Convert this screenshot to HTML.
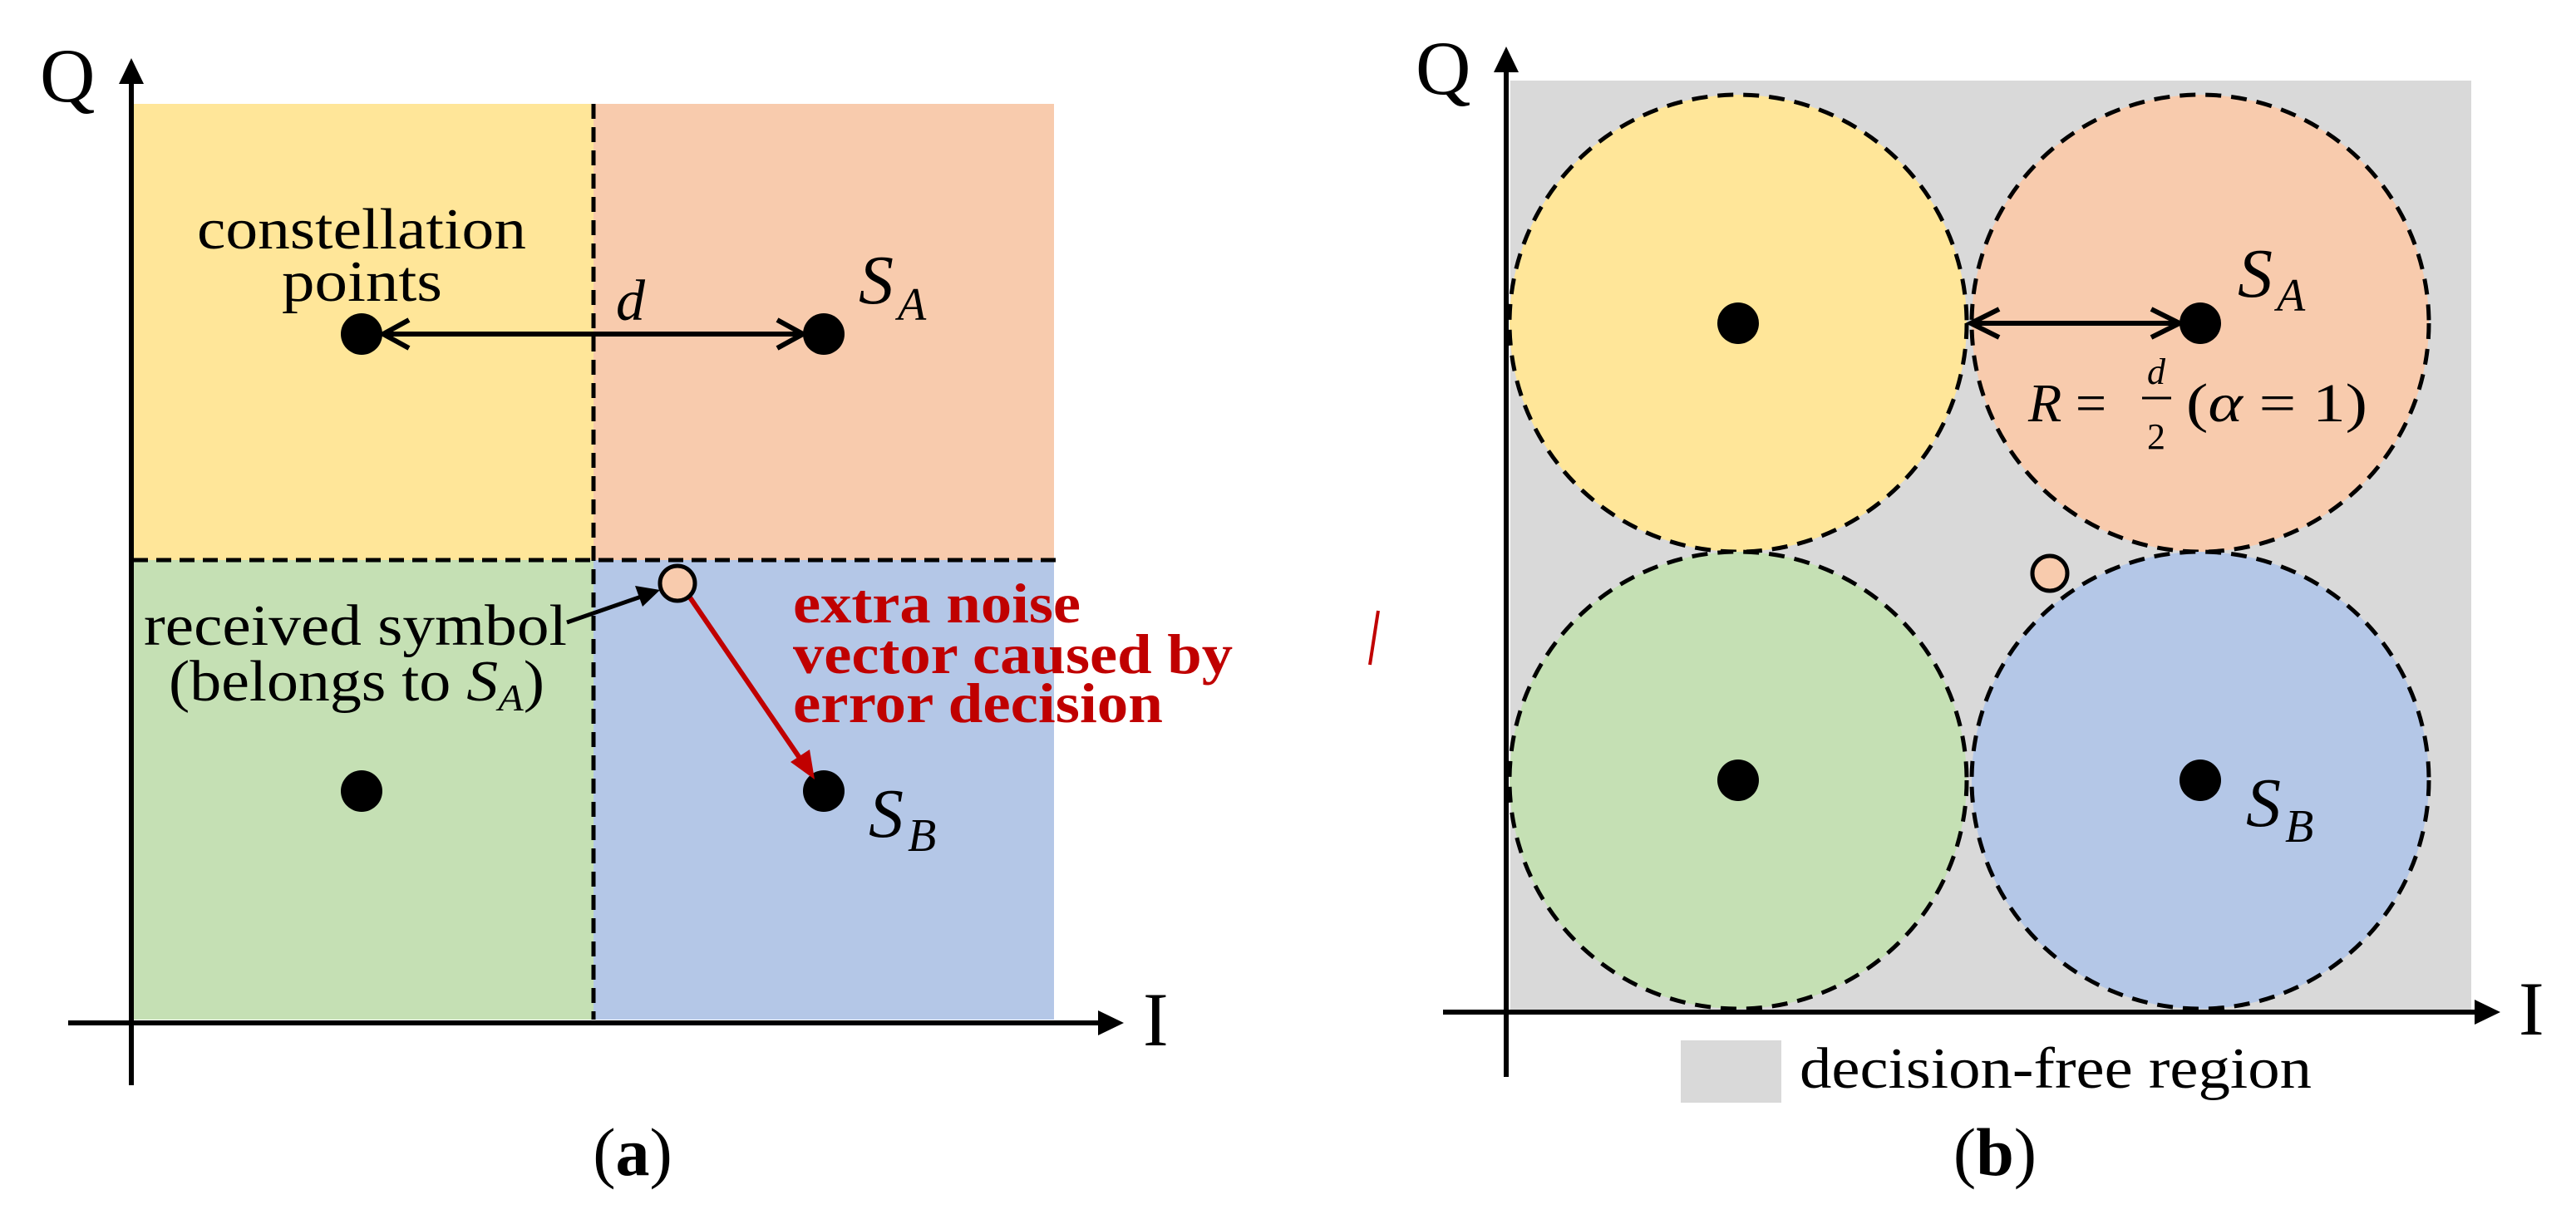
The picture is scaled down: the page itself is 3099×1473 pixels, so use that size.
<!DOCTYPE html>
<html><head><style>html,body{margin:0;padding:0;background:#fff}svg{display:block}</style></head><body>
<svg width="3099" height="1473" viewBox="0 0 3099 1473" xmlns="http://www.w3.org/2000/svg" font-family="Liberation Serif, serif">
<!-- Panel (a) -->
<rect x="160" y="125" width="554" height="549" fill="#FFE699"/>
<rect x="714" y="125" width="554" height="549" fill="#F8CBAD"/>
<rect x="160" y="674" width="554" height="553" fill="#C5E0B4"/>
<rect x="714" y="674" width="554" height="553" fill="#B4C7E7"/>
<line x1="714" y1="125" x2="714" y2="1227" stroke="#000" stroke-width="5" stroke-dasharray="18,10"/>
<line x1="160" y1="674" x2="1275" y2="674" stroke="#000" stroke-width="5" stroke-dasharray="18,10"/>
<line x1="158" y1="1306" x2="158" y2="95" stroke="#000" stroke-width="6"/>
<polygon points="158,70 143,101 173,101" fill="#000"/>
<line x1="82" y1="1231" x2="1325" y2="1231" stroke="#000" stroke-width="6"/>
<polygon points="1352,1231 1321,1216 1321,1246" fill="#000"/>
<text x="48" y="122" font-size="92">Q</text>
<text x="1375" y="1258" font-size="92">I</text>
<circle cx="435" cy="402" r="25" fill="#000"/>
<circle cx="991" cy="402" r="25" fill="#000"/>
<circle cx="435" cy="952" r="25" fill="#000"/>
<circle cx="991" cy="952" r="25" fill="#000"/>
<line x1="462" y1="402" x2="965" y2="402" stroke="#000" stroke-width="6"/>
<polyline points="492,385 461,402 492,419" fill="none" stroke="#000" stroke-width="6"/>
<polyline points="935,385 966,402 935,419" fill="none" stroke="#000" stroke-width="6"/>
<text x="741" y="385" font-size="70" font-style="italic">d</text>
<text x="237" y="299" font-size="70" textLength="396" lengthAdjust="spacingAndGlyphs">constellation</text>
<text x="339" y="362" font-size="70" textLength="193" lengthAdjust="spacingAndGlyphs">points</text>
<text x="1033" y="365" font-size="84" font-style="italic">S</text><text x="1080" y="385" font-size="56" font-style="italic">A</text>
<text x="1045" y="1007" font-size="84" font-style="italic">S</text><text x="1092" y="1024" font-size="56" font-style="italic">B</text>
<text x="173" y="776" font-size="70" textLength="509" lengthAdjust="spacingAndGlyphs">received symbol</text>
<text x="203" y="843" font-size="70" textLength="452" lengthAdjust="spacingAndGlyphs">(belongs to <tspan font-style="italic">S</tspan><tspan font-size="46" font-style="italic" dy="12">A</tspan><tspan dy="-12">)</tspan></text>
<line x1="682" y1="749" x2="780" y2="715" stroke="#000" stroke-width="5"/>
<polygon points="794,710 764,705 773,730" fill="#000"/>
<line x1="830" y1="719" x2="966" y2="918" stroke="#C00000" stroke-width="6"/>
<polygon points="980,938 951,917 974,902" fill="#C00000"/>
<circle cx="815" cy="702" r="21" fill="#F8CBAD" stroke="#000" stroke-width="5"/>
<g fill="#C00000" font-weight="bold" font-size="68">
<text x="954" y="749" textLength="346" lengthAdjust="spacingAndGlyphs">extra noise</text>
<text x="954" y="810" textLength="529" lengthAdjust="spacingAndGlyphs">vector caused by</text>
<text x="954" y="869" textLength="445" lengthAdjust="spacingAndGlyphs">error decision</text>
</g>
<text x="761" y="1414" font-size="82" text-anchor="middle">(<tspan font-weight="bold">a</tspan>)</text>
<!-- Panel (b) -->
<rect x="1817" y="97" width="1156" height="1118" fill="#D9D9D9"/>
<g stroke="#000" stroke-width="5" stroke-dasharray="19,12">
<circle cx="2091" cy="389" r="275" fill="#FFE699"/>
<circle cx="2647" cy="389" r="275" fill="#F8CBAD"/>
<circle cx="2091" cy="939" r="275" fill="#C5E0B4"/>
<circle cx="2647" cy="939" r="275" fill="#B4C7E7"/>
</g>
<line x1="1812" y1="1296" x2="1812" y2="80" stroke="#000" stroke-width="6"/>
<polygon points="1812,56 1797,87 1827,87" fill="#000"/>
<line x1="1736" y1="1218" x2="2982" y2="1218" stroke="#000" stroke-width="6"/>
<polygon points="3008,1218 2977,1203 2977,1233" fill="#000"/>
<text x="1703" y="113" font-size="92">Q</text>
<text x="3030" y="1245" font-size="92">I</text>
<circle cx="2091" cy="389" r="25" fill="#000"/>
<circle cx="2647" cy="389" r="25" fill="#000"/>
<circle cx="2091" cy="939" r="25" fill="#000"/>
<circle cx="2647" cy="939" r="25" fill="#000"/>
<line x1="2370" y1="389" x2="2622" y2="389" stroke="#000" stroke-width="6"/>
<polyline points="2405,372 2371,389 2405,406" fill="none" stroke="#000" stroke-width="6"/>
<polyline points="2588,372 2622,389 2588,406" fill="none" stroke="#000" stroke-width="6"/>
<text x="2692" y="357" font-size="84" font-style="italic">S</text><text x="2739" y="374" font-size="56" font-style="italic">A</text>
<text x="2702" y="994" font-size="84" font-style="italic">S</text><text x="2749" y="1013" font-size="56" font-style="italic">B</text>
<text x="2440" y="507" font-size="66"><tspan font-style="italic">R</tspan> = </text>
<text x="2583" y="462" font-size="44" font-style="italic">d</text>
<line x1="2577" y1="479" x2="2612" y2="479" stroke="#000" stroke-width="3"/>
<text x="2583" y="540" font-size="44">2</text>
<text x="2630" y="507" font-size="66" textLength="218" lengthAdjust="spacingAndGlyphs">(<tspan font-style="italic">α</tspan> = 1)</text>
<circle cx="2466" cy="690" r="21" fill="#F8CBAD" stroke="#000" stroke-width="5"/>
<line x1="1658" y1="735" x2="1648" y2="800" stroke="#C00000" stroke-width="4"/>
<rect x="2022" y="1252" width="121" height="75" fill="#D9D9D9"/>
<text x="2165" y="1309" font-size="70" textLength="616" lengthAdjust="spacingAndGlyphs">decision-free region</text>
<text x="2400" y="1414" font-size="82" text-anchor="middle">(<tspan font-weight="bold">b</tspan>)</text>
</svg>
</body></html>
